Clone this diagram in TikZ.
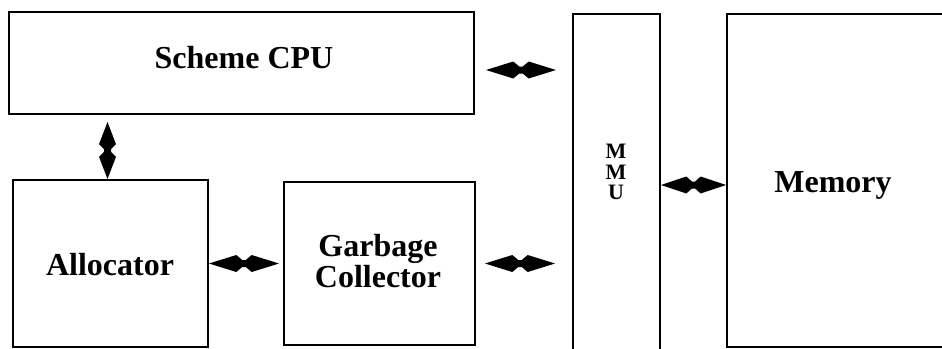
\documentclass[tikz,border=0pt]{standalone}
\usepackage{fontspec}
\setmainfont{Liberation Serif}
\usetikzlibrary{calc}
\begin{document}
\begin{tikzpicture}[x=1pt,y=-1pt,
  blk/.style={draw, line width=2pt, inner sep=0pt},
  lbl/.style={font=\fontsize{32}{26}\selectfont\bfseries, align=center, inner sep=0pt},
  dbl/.style={fill=black, to path={
    (\tikztostart)
    -- ($(\tikztostart)!0.39!(\tikztotarget)!8.5pt!90:(\tikztotarget)$)
    -- ($(\tikztostart)!0.475!(\tikztotarget)!3.5pt!90:(\tikztotarget)$)
    -- ($(\tikztostart)!0.525!(\tikztotarget)!3.5pt!90:(\tikztotarget)$)
    -- ($(\tikztostart)!0.61!(\tikztotarget)!8.5pt!90:(\tikztotarget)$)
    -- (\tikztotarget)
    -- ($(\tikztostart)!0.61!(\tikztotarget)!8.5pt!-90:(\tikztotarget)$)
    -- ($(\tikztostart)!0.525!(\tikztotarget)!3.5pt!-90:(\tikztotarget)$)
    -- ($(\tikztostart)!0.475!(\tikztotarget)!3.5pt!-90:(\tikztotarget)$)
    -- ($(\tikztostart)!0.39!(\tikztotarget)!8.5pt!-90:(\tikztotarget)$)
    -- cycle}}
]
\useasboundingbox (0,0) rectangle (942,348);
\clip (0,0) rectangle (942,348);
\node[blk, minimum width=465pt, minimum height=102pt] (cpu) at (241.5,63) {};
\node[blk, minimum width=195pt, minimum height=167pt] (alloc) at (110.5,263.5) {};
\node[blk, minimum width=191pt, minimum height=163pt] (gc) at (379.5,263.5) {};
\node[blk, minimum width=87pt, minimum height=346pt] (mmu) at (616.5,187) {};
\node[blk, minimum width=223pt, minimum height=333pt] (mem) at (838.5,180.5) {};

\node[lbl] (cputxt) at (244,58) {Scheme CPU};
\node[lbl] (alloctxt) at (110,265) {Allocator};
\node[lbl] (gctxt) at (378,261) {Garbage\\Collector};
\node[lbl, font=\fontsize{22}{20.5}\selectfont\bfseries] (mmutxt) at (616,172) {M\\M\\U};
\node[lbl] (memtxt) at (833,185) {Memory};

\fill[dbl] ([shift={(11,7)}]cpu.east) to ([shift={(-16,7)}]cpu.east -| mmu.west);
\fill[dbl] ([shift={(-3,7)}]cpu.south -| alloc.north) to ([shift={(-3,0)}]alloc.north);
\fill[dbl] (alloc.east) to ([shift={(-4,0)}]gc.west);
\fill[dbl] ([shift={(9,0)}]gc.east) to ([shift={(-17,0)}]gc.east -| mmu.west);
\fill[dbl] ([shift={(0,-2)}]mmu.east) to ([shift={(0,-2)}]mmu.east -| mem.west);
\end{tikzpicture}
\end{document}
